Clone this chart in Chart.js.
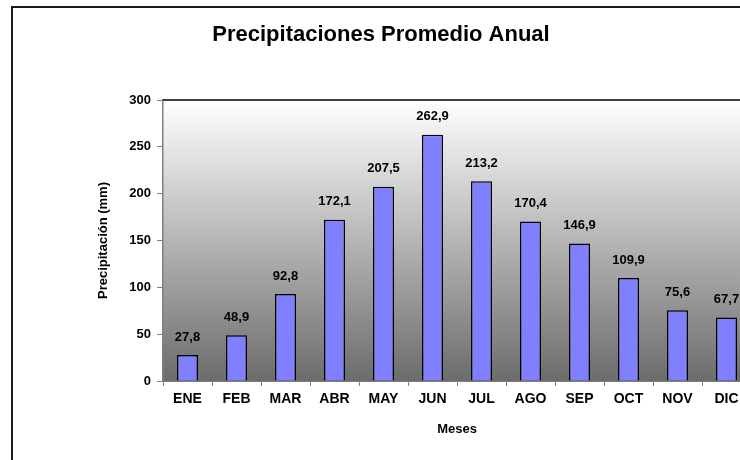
<!DOCTYPE html>
<html>
<head>
<meta charset="utf-8">
<script src="https://cdn.jsdelivr.net/npm/chart.js@4.4.0/dist/chart.umd.min.js"></script>
<style>
  html, body { margin:0; padding:0; background:#fff; overflow:hidden; }
  #wrap { position:absolute; left:0; top:0; width:760px; height:460px; }
</style>
</head>
<body>
<div id="wrap"><canvas id="grafica" width="760" height="460"></canvas></div>
<script>
// datos del grafico
var meses = ["ENE","FEB","MAR","ABR","MAY","JUN","JUL","AGO","SEP","OCT","NOV","DIC"];
var precipitacion = [27.8, 48.9, 92.8, 172.1, 207.5, 262.9, 213.2, 170.4, 146.9, 109.9, 75.6, 67.7];
var ticksY = [0, 50, 100, 150, 200, 250, 300];
var titulo = 'Precipitaciones Promedio Anual';

var fuente = "'Liberation Sans', Arial, sans-serif";

// fondo degradado del area del grafico + marco + titulo
var fondo = {
  id: 'fondo',
  beforeDraw: function(chart){
    var ctx = chart.ctx, a = chart.chartArea;
    ctx.save();
    // marco exterior
    ctx.strokeStyle = '#1a1a1a';
    ctx.lineWidth = 2;
    ctx.strokeRect(12, 7, 800, 500);
    var g = ctx.createLinearGradient(0, a.top, 0, a.bottom);
    g.addColorStop(0, '#ffffff');
    g.addColorStop(1, '#6c6c6c');
    ctx.fillStyle = g;
    ctx.fillRect(a.left, a.top, a.right - a.left, a.bottom - a.top);
    ctx.restore();
  },
  afterDraw: function(chart){
    var ctx = chart.ctx, a = chart.chartArea;
    ctx.save();
    ctx.strokeStyle = '#000';
    ctx.lineWidth = 1.5;
    ctx.beginPath();
    ctx.moveTo(a.left, a.top);
    ctx.lineTo(a.right, a.top);
    ctx.stroke();
    // titulo
    ctx.font = 'bold 22px ' + fuente;
    ctx.fillStyle = '#000';
    ctx.textAlign = 'center';
    ctx.textBaseline = 'alphabetic';
    ctx.fillText(titulo, 381, 41);
    ctx.restore();
  }
};

// etiquetas de valores arriba de cada barra
var etiquetas = {
  id: 'etiquetas',
  afterDatasetsDraw: function(chart){
    var ctx = chart.ctx;
    var meta = chart.getDatasetMeta(0);
    ctx.save();
    ctx.font = 'bold 13px ' + fuente;
    ctx.fillStyle = '#000';
    ctx.textAlign = 'center';
    ctx.textBaseline = 'middle';
    meta.data.forEach(function(barra, i){
      var txt = precipitacion[i].toFixed(1).replace('.', ',');
      ctx.fillText(txt, barra.x, barra.y - 18);
    });
    ctx.restore();
  }
};

var chart = new Chart(document.getElementById('grafica').getContext('2d'), {
  type: 'bar',
  data: {
    labels: meses,
    datasets: [{
      label: 'Precipitación',
      data: precipitacion,
      backgroundColor: '#8080ff',
      borderColor: '#000',
      borderWidth: 1.5,
      barPercentage: 0.43,
      categoryPercentage: 1
    }]
  },
  options: {
    responsive: false,
    animation: false,
    layout: { padding: { left: 94, right: 9, top: 100, bottom: 0 } },
    plugins: {
      legend: { display: false },
      tooltip: { enabled: false },
      title: { display: false }
    },
    scales: {
      x: {
        grid: { display: true, offset: true, drawOnChartArea: false, tickLength: 5, color: '#808080' },
        border: { color: '#808080', width: 1 },
        ticks: { color: '#000', font: { family: fuente, size: 14, weight: 'bold' }, padding: 5, maxRotation: 0 },
        title: { display: true, text: 'Meses', color: '#000', font: { family: fuente, size: 13, weight: 'bold', lineHeight: 1.25 }, padding: { top: 0, bottom: 22 } },
        afterFit: function(s){ s.height = 79; }
      },
      y: {
        min: 0,
        max: 300,
        afterBuildTicks: function(s){ s.ticks = ticksY.map(function(v){ return { value: v }; }); },
        grid: { display: true, drawOnChartArea: false, tickLength: 6, color: '#808080' },
        border: { color: '#808080', width: 1.5 },
        ticks: { color: '#000', font: { family: fuente, size: 13, weight: 'bold' }, padding: 6 },
        title: { display: true, text: 'Precipitación (mm)', color: '#000', font: { family: fuente, size: 13, weight: 'bold', lineHeight: 1.25 }, padding: { top: 1, bottom: 0 } },
        afterFit: function(s){ s.width = 69; }
      }
    }
  },
  plugins: [fondo, etiquetas]
});
</script>
</body>
</html>
